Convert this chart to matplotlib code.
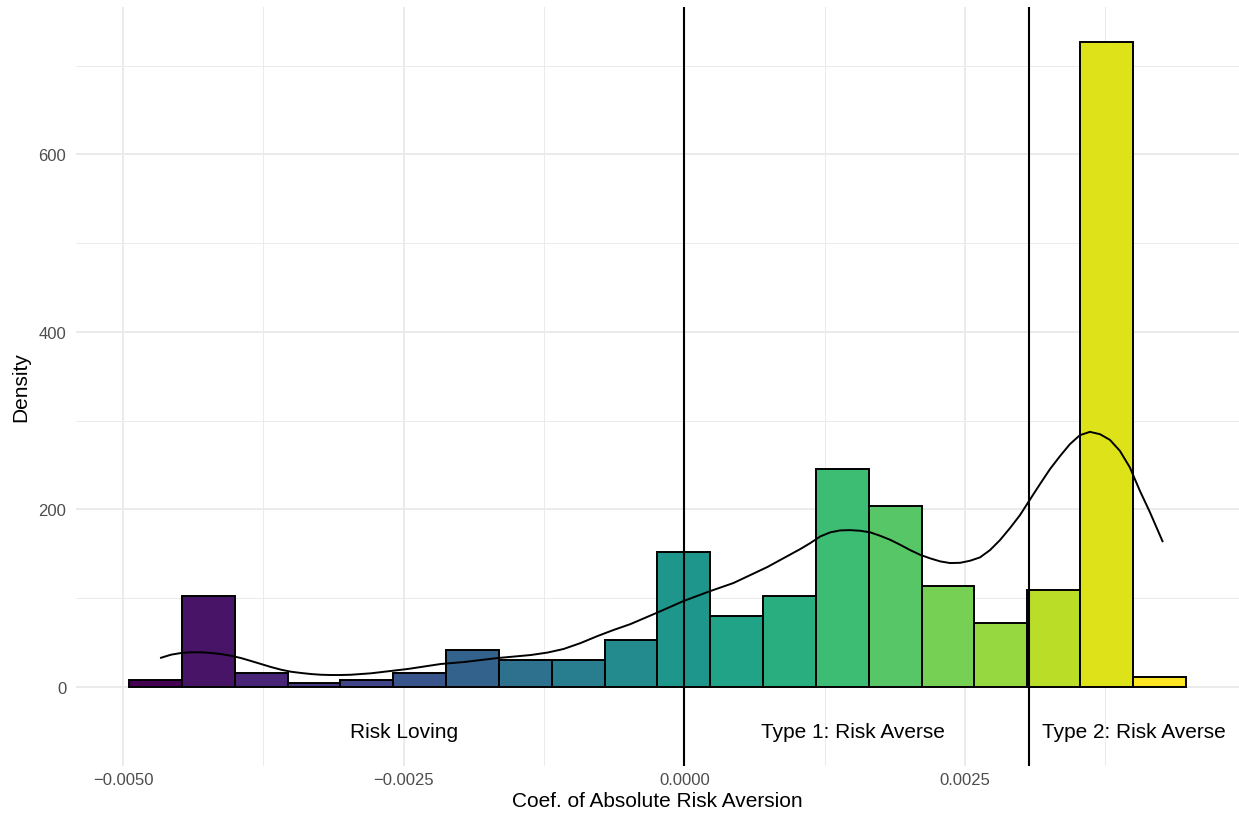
import matplotlib
matplotlib.use("Agg")
import matplotlib.pyplot as plt
import numpy as np

plt.rcParams['font.family'] = ['Liberation Sans', 'DejaVu Sans']

# histogram of the coefficient (density scale), 20 equal bins
bin_start = -0.004947
bin_width = 0.0004706
density = [8, 102, 16, 4.5, 8, 16, 42, 30, 30, 53,
           152, 80, 102, 246, 204, 114, 72, 109, 727, 11]

# kernel density curve (x in units of 1e-3)
kde_x = [-4.671, -4.573, -4.484, -4.395, -4.306, -4.217, -4.128, -4.039, -3.950, -3.861,
         -3.772, -3.683, -3.594, -3.505, -3.416, -3.327, -3.238, -3.149, -3.060, -2.972,
         -2.883, -2.794, -2.464, -2.171, -1.966, -1.664, -1.370, -1.219, -1.077, -0.925,
         -0.774, -0.632, -0.480, -0.231, -0.009, 0.231, 0.436, 0.738, 1.032, 1.121,
         1.210, 1.299, 1.388, 1.477, 1.566, 1.655, 1.744, 1.833, 1.922, 2.011,
         2.100, 2.189, 2.278, 2.367, 2.456, 2.544, 2.633, 2.722, 2.811, 2.900,
         2.989, 3.069, 3.167, 3.256, 3.345, 3.434, 3.523, 3.612, 3.701, 3.790,
         3.879, 3.968, 4.057, 4.146, 4.262]
kde_y = [32.6, 36.4, 38.3, 39.1, 39.1, 38.3, 37.1, 35.2, 32.6, 29.3,
         25.9, 22.5, 19.5, 17.2, 15.8, 14.6, 13.8, 13.5, 13.5, 13.8,
         14.6, 15.4, 20.3, 25.9, 28.1, 32.6, 36.0, 38.8, 42.8, 49.5,
         57.4, 64.2, 70.9, 84.4, 96.8, 108.1, 117.1, 135.1, 155.4, 162.1,
         169.6, 174.2, 176.4, 176.7, 176.0, 174.2, 170.3, 165.8, 160.2, 154.2,
         148.9, 144.9, 141.5, 139.6, 139.9, 142.2, 146.0, 154.2, 165.5, 179.0,
         193.6, 209.4, 228.5, 245.4, 260.0, 273.6, 283.7, 287.4, 284.8, 278.4,
         266.0, 247.3, 221.0, 197.0, 163.2]

# cut-offs between the groups
cutoffs = [0.0, 0.003069]
group_labels = ["Risk Loving", "Type 1: Risk Averse", "Type 2: Risk Averse"]
group_x = [-0.0025, 0.0015, 0.004]
label_y = -50

xticks = [-0.005, -0.0025, 0.0, 0.0025]
xtick_labels = ["\u22120.0050", "\u22120.0025", "0.0000", "0.0025"]
yticks = [0, 200, 400, 600]

fig = plt.figure(figsize=(12.39, 8.20), dpi=100)
ax = fig.add_axes([76/1239, 53/820, 1163/1239, 759/820])

# grid like theme_minimal
for v in [-0.00375, -0.00125, 0.00125, 0.00375]:
    ax.axvline(v, color='#EBEBEB', lw=0.7, zorder=0)
for v in [100, 300, 500, 700]:
    ax.axhline(v, color='#EBEBEB', lw=0.7, zorder=0)
for v in xticks:
    ax.axvline(v, color='#EBEBEB', lw=1.4, zorder=0)
for v in yticks:
    ax.axhline(v, color='#EBEBEB', lw=1.4, zorder=0)

n = len(density)
lefts = bin_start + bin_width * np.arange(n)
colors = plt.cm.viridis(np.linspace(0, 1, n))
ax.bar(lefts, density, width=bin_width, align='edge', color=colors,
       edgecolor='black', linewidth=1.4, zorder=2)

ax.plot(np.array(kde_x) * 1e-3, kde_y, color='black', lw=1.4, zorder=3,
        solid_joinstyle='round', solid_capstyle='butt')

for c in cutoffs:
    ax.axvline(c, color='black', lw=1.5, zorder=4)

for lab, gx in zip(group_labels, group_x):
    ax.text(gx, label_y, lab, ha='center', va='center', fontsize=15, color='black')

ax.set_xlim(-0.00542, 0.00494)
ax.set_ylim(-89, 766)
ax.set_xticks(xticks)
ax.set_xticklabels(xtick_labels)
ax.set_yticks(yticks)
ax.tick_params(length=0, labelsize=12, labelcolor='#4D4D4D')
ax.tick_params(axis='x', pad=4)
ax.tick_params(axis='y', pad=7)
for s in ax.spines.values():
    s.set_visible(False)

ax.set_xlabel("Coef. of Absolute Risk Aversion", fontsize=15, labelpad=3)
ax.set_ylabel("Density", fontsize=15, labelpad=6)

fig.savefig("out.png", dpi=100)
